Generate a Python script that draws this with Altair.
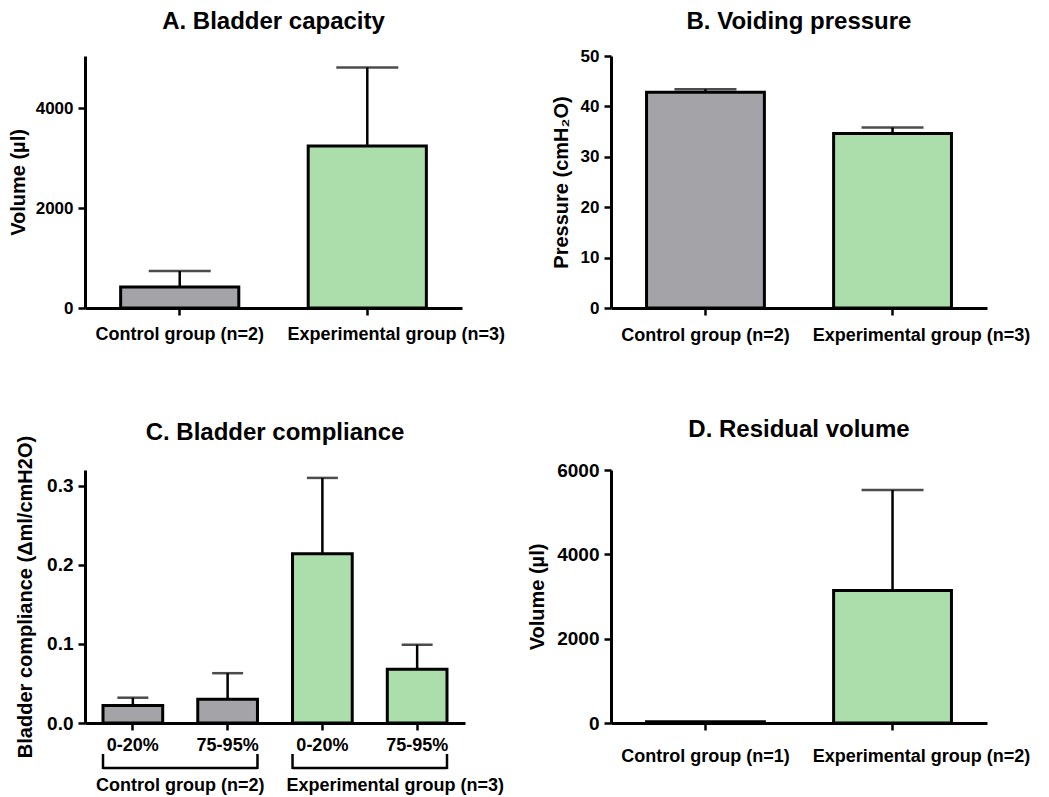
import altair as alt
import pandas as pd

FONT = "Liberation Sans"
GRAY = "#A4A4A8"
GREEN = "#ABDEAB"
KINDS = ["Control", "Experimental"]
TITLES = ["A. Bladder capacity", "B. Voiding pressure", "C. Bladder compliance", "D. Residual volume"]

# Panel A - Bladder capacity
a_cats = ["Control group (n=2)", "Experimental group (n=3)"]
a_kind = ["Control", "Experimental"]
a_mean = [420, 3240]
a_err = [320, 1570]
a_ticks = [0, 2000, 4000]

# Panel B - Voiding pressure
b_cats = ["Control group (n=2)", "Experimental group (n=3)"]
b_kind = ["Control", "Experimental"]
b_mean = [42.8, 34.6]
b_err = [0.6, 1.2]
b_ticks = [0, 10, 20, 30, 40, 50]

# Panel C - Bladder compliance
c_cats = ["Control|0-20%", "Control|75-95%", "Experimental|0-20%", "Experimental|75-95%"]
c_kind = ["Control", "Control", "Experimental", "Experimental"]
c_mean = [0.022, 0.030, 0.214, 0.068]
c_err = [0.010, 0.033, 0.096, 0.031]
c_ticks = [0.0, 0.1, 0.2, 0.3]
c_groups = ["Control group (n=2)", "Experimental group (n=3)"]
c_group_start = ["Control|0-20%", "Experimental|0-20%"]
c_group_end = ["Control|75-95%", "Experimental|75-95%"]

# Panel D - Residual volume
d_cats = ["Control group (n=1)", "Experimental group (n=2)"]
d_kind = ["Control", "Experimental"]
d_mean = [30, 3140]
d_err = [0, 2385]
d_ticks = [0, 2000, 4000, 6000]


def frame(cats, kinds, mean, err):
    return pd.DataFrame({
        "cat": cats, "kind": kinds, "mean": mean, "err": err,
        "hi": [m + e for m, e in zip(mean, err)],
    })


EXP_SHIFT = {"condition": {"test": "indexof(datum.value, 'Experimental group') == 0", "value": 29}, "value": 0}


def panel(df, cats, title, title_y, ytitle, ydomain, yticks, yfmt, width, height,
          xlabelpad, ytitlepad, cap, ylabelsize=17, label_expr=None, shift=False, extra=()):
    xaxis_kw = dict(title=None, labelAngle=0, labelFontSize=18, labelPadding=xlabelpad,
                    labelLimit=0, labelOverlap=False, tickSize=7)
    if label_expr:
        xaxis_kw["labelExpr"] = label_expr
    if shift:
        xaxis_kw["labelOffset"] = EXP_SHIFT
    x = alt.X("cat:N", scale=alt.Scale(domain=cats, paddingInner=0.37, paddingOuter=0.19),
              axis=alt.Axis(**xaxis_kw), title=None)
    y = alt.Y("mean:Q", scale=alt.Scale(domain=ydomain, nice=False, zero=True),
              axis=alt.Axis(values=yticks, format=yfmt, title=ytitle, titlePadding=ytitlepad,
                            titleLimit=1000, labelFontSize=ylabelsize), title=ytitle)
    bars = alt.Chart(df).mark_bar(stroke="black", strokeWidth=3).encode(
        x=x, y=y,
        fill=alt.Fill("kind:N", scale=alt.Scale(domain=KINDS, range=[GRAY, GREEN]), legend=None),
    )
    rule = alt.Chart(df).mark_rule(color="black", strokeWidth=2.5).encode(
        x=alt.X("cat:N", title=None),
        y=alt.Y("mean:Q", title=ytitle), y2="hi:Q",
    )
    caps = alt.Chart(df).transform_filter("datum.err > 0").mark_tick(
        color="black", thickness=2.5, size=cap).encode(
        x=alt.X("cat:N", title=None),
        y=alt.Y("hi:Q", title=ytitle),
    )
    head = alt.Chart(pd.DataFrame({"t": [title]})).mark_text(
        fontSize=24, fontWeight="bold", font=FONT, color="black",
        align="center", baseline="alphabetic").encode(
        x=alt.value(width / 2), y=alt.value(title_y), text="t:N")
    return alt.layer(bars, rule, caps, head, *extra).properties(width=width, height=height)


pA = panel(frame(a_cats, a_kind, a_mean, a_err), a_cats, TITLES[0], -27,
           "Volume (µl)", [0, 5040], a_ticks, "d", 377, 252, 10.5, 7, 62, shift=True)
pB = panel(frame(b_cats, b_kind, b_mean, b_err), b_cats, TITLES[1], -27,
           "Pressure (cmH₂O)", [0, 50], b_ticks, "d", 376, 252, 11, 9, 62, shift=True)

# bracket + group labels for panel C
br = pd.DataFrame({"start": c_group_start, "end": c_group_end, "label": c_groups})
hline = alt.Chart(br).mark_rule(color="black", strokeWidth=2.5).encode(
    x=alt.X("start:N", bandPosition=0, title=None),
    x2=alt.X2("end", bandPosition=1),
    y=alt.value(298),
)
vleft = alt.Chart(br).mark_rule(color="black", strokeWidth=2.5).encode(
    x=alt.X("start:N", bandPosition=0, title=None),
    y=alt.value(284), y2=alt.value(299),
)
vright = alt.Chart(br).mark_rule(color="black", strokeWidth=2.5).encode(
    x=alt.X("end:N", bandPosition=1, title=None),
    y=alt.value(284), y2=alt.value(299),
)
lab_ctrl = alt.Chart(br.iloc[[0]]).mark_text(
    align="right", baseline="alphabetic", dx=7, fontSize=18, fontWeight="bold", font=FONT,
    color="black").encode(
    x=alt.X("end:N", bandPosition=1, title=None), y=alt.value(321), text="label:N")
lab_exp = alt.Chart(br.iloc[[1]]).mark_text(
    align="left", baseline="alphabetic", dx=-6, fontSize=18, fontWeight="bold", font=FONT,
    color="black").encode(
    x=alt.X("start:N", bandPosition=0, title=None), y=alt.value(321), text="label:N")

pC = panel(frame(c_cats, c_kind, c_mean, c_err), c_cats, TITLES[2], -30,
           "Bladder compliance (Δml/cmH2O)", [0, 0.32], c_ticks, ".1f", 380, 253, 6, 11, 31,
           ylabelsize=19, label_expr="split(datum.value, '|')[1]",
           extra=(hline, vleft, vright, lab_ctrl, lab_exp))
pD = panel(frame(d_cats, d_kind, d_mean, d_err), d_cats, TITLES[3], -33,
           "Volume (µl)", [0, 6000], d_ticks, "d", 376, 253, 17.5, 9, 62,
           ylabelsize=19, shift=True)

chart = alt.concat(pA, pB, pC, pD, columns=2, spacing={"row": 161, "column": 146},
                   bounds="flush", align="all").properties(
    padding={"left": 0, "top": 2, "right": 2, "bottom": 0},
).configure_view(stroke=None).configure_axis(
    domainColor="black", domainWidth=3, tickColor="black", tickWidth=2.5, tickSize=7,
    labelColor="black", labelFont=FONT, labelFontWeight="bold", labelFontSize=17,
    labelPadding=5, titleFont=FONT, titleFontWeight="bold", titleFontSize=20,
    titleColor="black", grid=False,
)

chart.save("out.html", embed_options={"renderer": "svg", "actions": False})
